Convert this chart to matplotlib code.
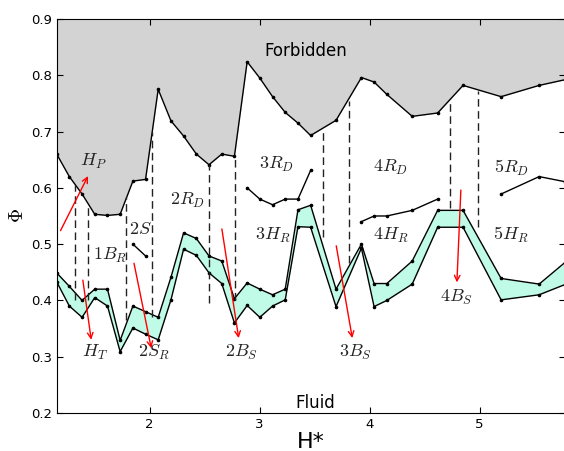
#!/usr/bin/env python3
import matplotlib

matplotlib.use("Agg")
import matplotlib.pyplot as plt

# H* positions shared by the boundary curves
h_star = [1.155, 1.270, 1.386, 1.501, 1.617, 1.732, 1.848, 1.963, 2.078, 2.194,
          2.309, 2.425, 2.540, 2.656, 2.771, 2.887, 3.002, 3.118, 3.233, 3.349,
          3.464, 3.695, 3.926, 4.041, 4.157, 4.388, 4.619, 4.850, 5.196, 5.542,
          5.774]

forbidden_edge = [0.660, 0.620, 0.589, 0.553, 0.551, 0.553, 0.612, 0.615, 0.775, 0.719,
                  0.692, 0.660, 0.641, 0.660, 0.656, 0.824, 0.795, 0.762, 0.734, 0.715,
                  0.693, 0.720, 0.796, 0.788, 0.766, 0.727, 0.733, 0.782, 0.762, 0.782,
                  0.792]

band_upper = [0.449, 0.425, 0.400, 0.420, 0.420, 0.329, 0.390, 0.380, 0.370, 0.441,
              0.520, 0.510, 0.479, 0.470, 0.403, 0.431, 0.420, 0.410, 0.420, 0.561,
              0.569, 0.420, 0.500, 0.430, 0.430, 0.470, 0.560, 0.560, 0.439, 0.429,
              0.467]

band_lower = [0.433, 0.390, 0.370, 0.405, 0.390, 0.309, 0.351, 0.340, 0.330, 0.401,
              0.491, 0.480, 0.449, 0.430, 0.360, 0.391, 0.370, 0.390, 0.401, 0.531,
              0.530, 0.389, 0.493, 0.389, 0.400, 0.429, 0.530, 0.530, 0.401, 0.410,
              0.428]

# short branches drawn inside the diagram
branch_2s_x = [1.848, 1.963]
branch_2s_y = [0.500, 0.479]
branch_3rd_x = [2.887, 3.002, 3.118, 3.233, 3.349, 3.464]
branch_3rd_y = [0.600, 0.580, 0.570, 0.580, 0.580, 0.631]
branch_4rd_x = [3.926, 4.041, 4.157, 4.388, 4.619]
branch_4rd_y = [0.540, 0.550, 0.550, 0.560, 0.580]
branch_5rd_x = [5.196, 5.542, 5.774]
branch_5rd_y = [0.589, 0.620, 0.611]

# vertical dashed separators: x, bottom, top
divider_x = [1.324, 1.439, 1.788, 2.018, 2.539, 2.773, 3.576, 3.812, 4.734, 4.990]
divider_bottom = [0.400, 0.400, 0.365, 0.370, 0.395, 0.400, 0.513, 0.466, 0.564, 0.531]
divider_top = [0.605, 0.573, 0.584, 0.700, 0.641, 0.656, 0.700, 0.755, 0.758, 0.772]

# region labels
region_labels = [r"$H_P$", r"$2S$", r"$1B_R$", r"$2R_D$", r"$3R_D$", r"$3H_R$",
                 r"$4R_D$", r"$4H_R$", r"$5R_D$", r"$5H_R$"]
region_x = [1.491, 1.914, 1.645, 2.341, 3.150, 3.121, 4.190, 4.195, 5.286, 5.286]
region_y = [0.646, 0.527, 0.479, 0.577, 0.642, 0.516, 0.636, 0.516, 0.635, 0.516]

# red arrows: tail, head; labels for the downward ones
arrow_labels = [r"$H_T$", r"$2S_R$", r"$2B_S$", r"$3B_S$", r"$4B_S$"]
arrow_tail_x = [1.190, 1.393, 1.858, 2.657, 3.697, 4.830]
arrow_tail_y = [0.524, 0.436, 0.466, 0.527, 0.497, 0.596]
arrow_head_x = [1.440, 1.469, 2.015, 2.810, 3.843, 4.794]
arrow_head_y = [0.621, 0.330, 0.315, 0.333, 0.333, 0.432]
arrow_label_x = [1.500, 2.036, 2.836, 3.873, 4.790]
arrow_label_y = [0.307, 0.308, 0.308, 0.308, 0.406]


def main() -> None:
    plt.rcParams["mathtext.fontset"] = "cm"
    plt.rcParams["xtick.direction"] = "in"
    plt.rcParams["ytick.direction"] = "in"
    plt.rcParams["xtick.top"] = True
    plt.rcParams["ytick.right"] = True

    fig = plt.figure(figsize=(5.64, 4.51), dpi=100)
    ax = fig.add_axes((0.1005, 0.0843, 0.9007, 0.8736))

    line_style = dict(color="black", linewidth=1.0, marker="o", markersize=1.6)

    _ = ax.fill_between(h_star, forbidden_edge, 0.9, color="#d3d3d3", linewidth=0)
    _ = ax.plot(h_star, forbidden_edge, **line_style)

    _ = ax.fill_between(h_star, band_lower, band_upper, color="#bffbe6", linewidth=0)
    _ = ax.plot(h_star, band_upper, **line_style)
    _ = ax.plot(h_star, band_lower, **line_style)

    for bx, by in [(branch_2s_x, branch_2s_y), (branch_3rd_x, branch_3rd_y),
                   (branch_4rd_x, branch_4rd_y), (branch_5rd_x, branch_5rd_y)]:
        _ = ax.plot(bx, by, **line_style)

    dividers = ax.vlines(divider_x, divider_bottom, divider_top, colors="#222222",
                         linewidth=1.0)
    dividers.set_linestyle((0, (5.5, 3.2)))

    for tx, ty, hx, hy in zip(arrow_tail_x, arrow_tail_y, arrow_head_x, arrow_head_y):
        _ = ax.annotate("", xy=(hx, hy), xytext=(tx, ty),
                        arrowprops=dict(arrowstyle="->", color="red", lw=1.0,
                                        shrinkA=0, shrinkB=0, mutation_scale=10))

    for label, lx, ly in zip(region_labels, region_x, region_y):
        _ = ax.text(lx, ly, label, fontsize=13, ha="center", va="center", color="#222222")
    for label, lx, ly in zip(arrow_labels, arrow_label_x, arrow_label_y):
        _ = ax.text(lx, ly, label, fontsize=13, ha="center", va="center", color="#222222")

    _ = ax.text(3.418, 0.843, "Forbidden", fontsize=12, ha="center", va="center")
    _ = ax.text(3.509, 0.218, "Fluid", fontsize=12, ha="center", va="center")

    _ = ax.set_xlim(h_star[0], h_star[-1])
    _ = ax.set_ylim(0.2, 0.9)
    _ = ax.set_xticks([2, 3, 4, 5])
    _ = ax.set_yticks([0.2, 0.3, 0.4, 0.5, 0.6, 0.7, 0.8, 0.9])
    ax.tick_params(labelsize=9.5, length=4, width=0.8)

    _ = ax.set_xlabel("H*", fontsize=16)
    _ = ax.set_ylabel(r"$\Phi$", fontsize=14)
    ax.xaxis.set_label_coords(0.5, -0.048)
    ax.yaxis.set_label_coords(-0.058, 0.5)

    fig.savefig("out.png", dpi=100)


if __name__ == "__main__":
    main()
